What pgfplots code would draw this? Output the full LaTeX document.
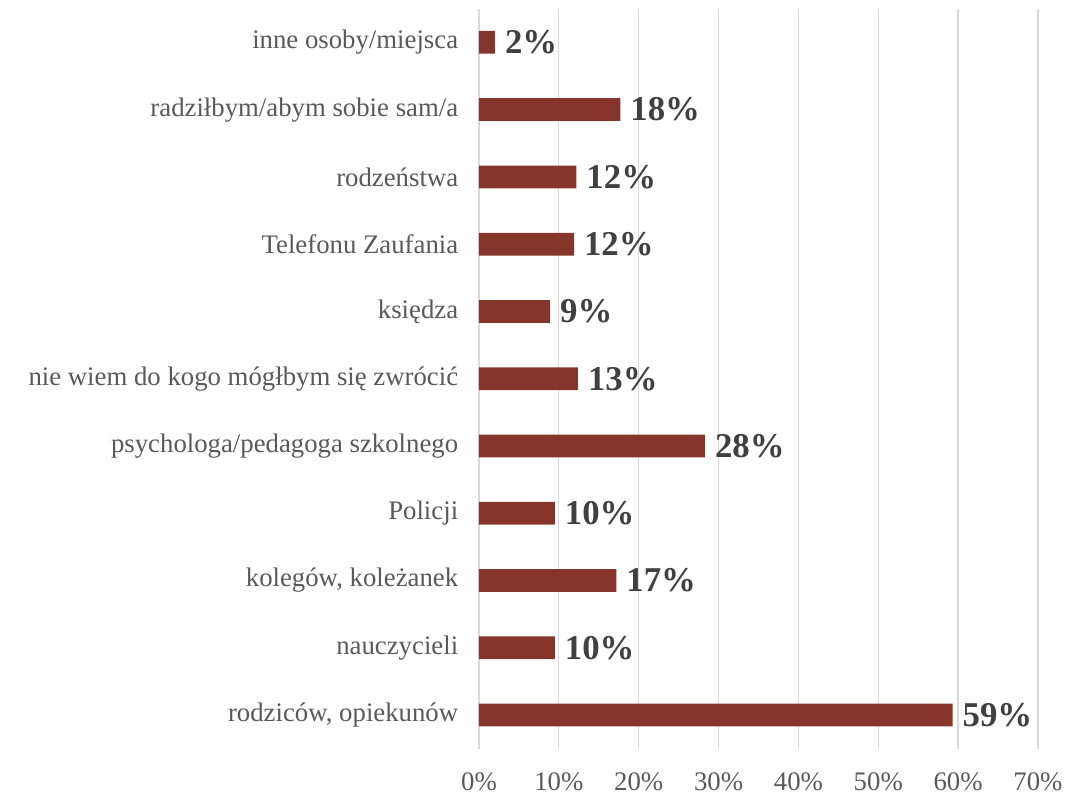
\documentclass[border=0pt]{standalone}
\usepackage{fontspec}
\setmainfont{Liberation Serif}
\usepackage{pgfplots}
\pgfplotsset{compat=1.18}
\definecolor{barred}{HTML}{86352A}
\definecolor{gridgray}{HTML}{D9D9D9}
\definecolor{labgray}{HTML}{595959}
\definecolor{valgray}{HTML}{404040}
\begin{document}
\begin{tikzpicture}
\begin{axis}[
    xbar,
    scale only axis,
    width=417.75pt,
    height=553pt,
    xmin=0, xmax=70,
    ymin=-0.5, ymax=10.5,
    xtick={0,10,...,70},
    xticklabels={0\%,10\%,20\%,30\%,40\%,50\%,60\%,70\%},
    ytick={0,...,10},
    yticklabels={{rodziców, opiekunów}, nauczycieli, {kolegów, koleżanek}, Policji,
        psychologa/pedagoga szkolnego, nie wiem do kogo mógłbym się zwrócić,
        księdza, Telefonu Zaufania, rodzeństwa, radziłbym/abym sobie sam/a,
        inne osoby/miejsca},
    xmajorgrids=true,
    grid style={gridgray, line width=1pt},
    axis line style={draw=none},
    axis x line*=bottom,
    axis y line*=left,
    major tick length=0pt,
    tick label style={text=labgray},
    xticklabel style={font=\fontsize{20}{23}\selectfont, yshift=-14pt},
    yticklabel style={font=\fontsize{20}{23}\selectfont, xshift=-12pt},
    bar width=17pt,
    point meta=explicit symbolic,
    nodes near coords,
    nodes near coords style={font=\bfseries\fontsize{26}{28}\selectfont, text=valgray, anchor=west, xshift=4pt},
    clip=false,
]
\draw[gridgray, line width=1pt] (axis cs:0,-0.5) -- (axis cs:0,10.5);
\addplot[draw=none, fill=barred] coordinates {
    (59.3,0) [59\%]
    (9.5,1) [10\%]
    (17.2,2) [17\%]
    (9.5,3) [10\%]
    (28.3,4) [28\%]
    (12.4,5) [13\%]
    (8.9,6) [9\%]
    (11.9,7) [12\%]
    (12.2,8) [12\%]
    (17.7,9) [18\%]
    (2.0,10) [2\%]
};
\end{axis}
\path (current bounding box.south west) ++(-18pt,0);
\path (current bounding box.north west) ++(0,6pt);
\end{tikzpicture}
\end{document}
